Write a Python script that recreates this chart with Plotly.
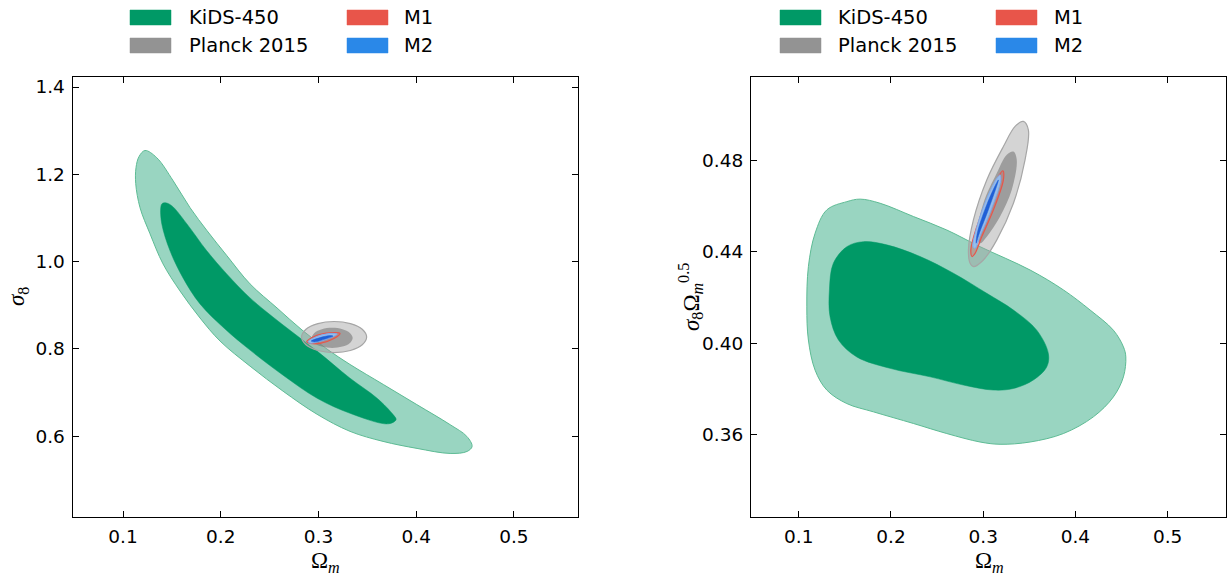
import plotly.graph_objects as go

# ---------------- data ----------------
# Left panel: (Omega_m, sigma_8)
kids_outer_om = [0.1225, 0.1345, 0.1512, 0.1686, 0.186, 0.2064, 0.23, 0.2576, 0.2832, 0.3088, 0.3323, 0.3664, 0.4006, 0.4347, 0.4518, 0.4572, 0.4521, 0.4347, 0.4009, 0.3661, 0.3323, 0.2986, 0.2638, 0.23, 0.1993, 0.1788, 0.1583, 0.1409, 0.1276, 0.1174, 0.113, 0.1133, 0.1164, 0.1225]
kids_outer_s8 = [1.2545, 1.238, 1.1855, 1.1234, 1.0706, 1.0131, 0.9487, 0.8936, 0.843, 0.7993, 0.7641, 0.7182, 0.6722, 0.6262, 0.5993, 0.5763, 0.5648, 0.5602, 0.5717, 0.5878, 0.6108, 0.6499, 0.7028, 0.7602, 0.8177, 0.8706, 0.9326, 0.9947, 1.0637, 1.1234, 1.1786, 1.2154, 1.2407, 1.2545]
kids_inner_om = [0.143, 0.1498, 0.1652, 0.1857, 0.2061, 0.23, 0.2638, 0.2986, 0.3323, 0.36, 0.3764, 0.3794, 0.3712, 0.3323, 0.2986, 0.2638, 0.23, 0.2044, 0.1788, 0.1614, 0.1481, 0.1396, 0.1386, 0.1399, 0.143]
kids_inner_s8 = [1.1349, 1.128, 1.0867, 1.0246, 0.9717, 0.9166, 0.8545, 0.7947, 0.7326, 0.6867, 0.6492, 0.6377, 0.628, 0.6522, 0.6867, 0.7395, 0.797, 0.8453, 0.9028, 0.9625, 1.0246, 1.0867, 1.1234, 1.1326, 1.1349]
planck_outer_om = [0.3493, 0.3448, 0.3327, 0.316, 0.2994, 0.2872, 0.2827, 0.2872, 0.2994, 0.316, 0.3327, 0.3448, 0.3493]
planck_outer_s8 = [0.827, 0.8448, 0.8578, 0.8626, 0.8578, 0.8448, 0.827, 0.8092, 0.7962, 0.7914, 0.7962, 0.8092, 0.827]
planck_inner_om = [0.335, 0.3322, 0.3245, 0.314, 0.3035, 0.2958, 0.293, 0.2958, 0.3035, 0.314, 0.3245, 0.3322, 0.335]
planck_inner_s8 = [0.825, 0.8365, 0.8449, 0.848, 0.8449, 0.8365, 0.825, 0.8135, 0.8051, 0.802, 0.8051, 0.8135, 0.825]
m1_outer_om = [0.288, 0.2983, 0.3119, 0.3221, 0.3153, 0.3016, 0.2922, 0.288]
m1_outer_s8 = [0.8161, 0.8308, 0.8368, 0.8354, 0.823, 0.8124, 0.8124, 0.8161]
m1_inner_om = [0.2905, 0.2996, 0.3119, 0.3195, 0.3129, 0.3006, 0.2914, 0.2905]
m1_inner_s8 = [0.8166, 0.8292, 0.8350, 0.8338, 0.8258, 0.8166, 0.8135, 0.8166]
m2_outer_om = [0.2894, 0.2996, 0.3119, 0.319, 0.3129, 0.3006, 0.2914, 0.2894]
m2_outer_s8 = [0.8166, 0.8292, 0.835, 0.8338, 0.8258, 0.8166, 0.813, 0.8166]
m2_inner_om = [0.2925, 0.3016, 0.3119, 0.3149, 0.3067, 0.2965, 0.2925]
m2_inner_s8 = [0.8177, 0.8258, 0.8304, 0.8292, 0.8223, 0.8159, 0.8177]

# Right panel: (Omega_m, sigma_8 * Omega_m^0.5)
r_kids_outer_om = [0.1521, 0.1665, 0.1882, 0.2243, 0.2605, 0.2966, 0.3509, 0.387, 0.416, 0.4412, 0.4521, 0.4547, 0.4521, 0.4412, 0.4195, 0.387, 0.3509, 0.3183, 0.2966, 0.2605, 0.2243, 0.1809, 0.1521, 0.1304, 0.1177, 0.1104, 0.1087, 0.1104, 0.1177, 0.1304, 0.1521]
r_kids_outer_s = [0.462, 0.4631, 0.4613, 0.4555, 0.4496, 0.4423, 0.4321, 0.4234, 0.4146, 0.4058, 0.3985, 0.3941, 0.3854, 0.3766, 0.3679, 0.3606, 0.3569, 0.3559, 0.3569, 0.3606, 0.365, 0.3701, 0.3737, 0.3796, 0.3883, 0.4015, 0.416, 0.4336, 0.4482, 0.4584, 0.462]
r_kids_inner_om = [0.1701, 0.1954, 0.2316, 0.2677, 0.3039, 0.3328, 0.3581, 0.3707, 0.369, 0.3544, 0.3328, 0.3111, 0.2785, 0.2424, 0.199, 0.1629, 0.143, 0.1339, 0.1332, 0.1375, 0.1521, 0.1701]
r_kids_inner_s = [0.4445, 0.4431, 0.438, 0.4307, 0.4219, 0.4146, 0.4058, 0.3956, 0.3898, 0.384, 0.3803, 0.3796, 0.3818, 0.3854, 0.3891, 0.3941, 0.4015, 0.4117, 0.4234, 0.4351, 0.4423, 0.4445]
r_planck_outer_om = [0.3436, 0.349, 0.3454, 0.3328, 0.3148, 0.3002, 0.2894, 0.2858, 0.284, 0.2894, 0.3039, 0.3219, 0.3346, 0.3436]
r_planck_outer_s = [0.4971, 0.4934, 0.4803, 0.4613, 0.4453, 0.4365, 0.4336, 0.4351, 0.4409, 0.454, 0.4715, 0.4861, 0.4949, 0.4971]
r_planck_inner_om = [0.3328, 0.3364, 0.331, 0.3183, 0.3039, 0.2966, 0.2931, 0.3002, 0.3148, 0.3256, 0.3328]
r_planck_inner_s = [0.4839, 0.4803, 0.4672, 0.4555, 0.4467, 0.4438, 0.4467, 0.4613, 0.4745, 0.4825, 0.4839]
r_m1_outer_om = [0.3213, 0.3219, 0.3111, 0.2985, 0.2912, 0.288, 0.2866, 0.2931, 0.3056, 0.3165, 0.3213]
r_m1_outer_s = [0.4755, 0.4715, 0.4584, 0.4467, 0.4394, 0.438, 0.4409, 0.4511, 0.4642, 0.473, 0.4755]
r_m1_inner_om = [0.3183, 0.3189, 0.3086, 0.2966, 0.2912, 0.289, 0.2934, 0.3042, 0.3151, 0.3183]
r_m1_inner_s = [0.4737, 0.4711, 0.4584, 0.447, 0.4416, 0.4422, 0.4514, 0.4637, 0.4724, 0.4737]
r_m2_outer_om = [0.3183, 0.3189, 0.3086, 0.2966, 0.2912, 0.289, 0.2934, 0.3042, 0.3151, 0.3183]
r_m2_outer_s = [0.4737, 0.4711, 0.4584, 0.447, 0.4416, 0.4422, 0.4514, 0.4637, 0.4724, 0.4737]
r_m2_inner_om = [0.3165, 0.3064, 0.2956, 0.2923, 0.2939, 0.3042, 0.314, 0.3165]
r_m2_inner_s = [0.4715, 0.4593, 0.4479, 0.4438, 0.4488, 0.461, 0.4698, 0.4715]

legend_names = ["KiDS-450", "Planck 2015", "M1", "M2"]
x_ticks = [0.1, 0.2, 0.3, 0.4, 0.5]
y_ticks_left = [0.6, 0.8, 1.0, 1.2, 1.4]
y_ticks_right = [0.36, 0.40, 0.44, 0.48]

# ---------------- styles ----------------
W, H = 1228, 576
GREEN = "#009966"
GREEN_L = "#99d5c1"
GREEN_EDGE = "#5dbb94"
GRAY = "#939393"
GRAY_EDGE = "#a6a6a6"
RED = "#e8554a"
BLUE = "#2a88e8"
legend_colors = [GREEN, GRAY, RED, BLUE]

fig = go.Figure()


def poly(x, y, fill, line_color, line_w, xa, ya):
    fig.add_trace(go.Scatter(
        x=x, y=y, mode="lines", fill="toself", fillcolor=fill,
        line=dict(color=line_color, width=line_w, shape="spline", smoothing=1.0),
        xaxis=xa, yaxis=ya, showlegend=False, hoverinfo="skip"))


panels = [
    ("x", "y",
     (kids_outer_om, kids_outer_s8), (kids_inner_om, kids_inner_s8),
     (planck_outer_om, planck_outer_s8), (planck_inner_om, planck_inner_s8),
     (m1_outer_om, m1_outer_s8), (m1_inner_om, m1_inner_s8),
     (m2_outer_om, m2_outer_s8), (m2_inner_om, m2_inner_s8)),
    ("x2", "y2",
     (r_kids_outer_om, r_kids_outer_s), (r_kids_inner_om, r_kids_inner_s),
     (r_planck_outer_om, r_planck_outer_s), (r_planck_inner_om, r_planck_inner_s),
     (r_m1_outer_om, r_m1_outer_s), (r_m1_inner_om, r_m1_inner_s),
     (r_m2_outer_om, r_m2_outer_s), (r_m2_inner_om, r_m2_inner_s)),
]

for xa, ya, ko, ki, po, pi, m1o, m1i, m2o, m2i in panels:
    poly(*ko, GREEN_L, GREEN_EDGE, 1, xa, ya)
    poly(*ki, GREEN, GREEN, 0.5, xa, ya)
    poly(*po, "rgba(160,160,160,0.45)", GRAY_EDGE, 1.2, xa, ya)
    poly(*pi, "rgba(120,120,120,0.6)", "rgba(120,120,120,0.0)", 0.5, xa, ya)
    poly(*m1o, "rgba(232,85,74,0.25)", RED, 1.2, xa, ya)
    poly(*m1i, "rgba(200,200,220,0.6)", "rgba(0,0,0,0)", 0.5, xa, ya)
    poly(*m2o, "rgba(143,191,242,0.85)", "rgba(120,170,240,0.9)", 1, xa, ya)
    poly(*m2i, "#1f5fd6", "#1f5fd6", 0.5, xa, ya)

TICKFONT = dict(family="DejaVu Sans", size=18.5, color="black")
axis_common = dict(
    showgrid=False, zeroline=False, showline=True, linecolor="black", linewidth=1.3,
    mirror="ticks", ticks="inside", ticklen=6, tickwidth=1, tickcolor="black",
    tickfont=TICKFONT, ticklabelstandoff=3, automargin=False)

fig.update_layout(
    width=W, height=H, margin=dict(l=0, r=0, t=0, b=0, autoexpand=False),
    paper_bgcolor="white", plot_bgcolor="white", showlegend=False,
    xaxis=dict(domain=[0.0592, 0.4707], range=[0.0485, 0.5656], tickvals=x_ticks,
               ticktext=[f"{v:.1f}" for v in x_ticks], anchor="y", **axis_common),
    yaxis=dict(domain=[0.1024, 0.8663], range=[0.4145, 1.4229], tickvals=y_ticks_left,
               ticktext=[f"{v:.1f}" for v in y_ticks_left], anchor="x", **axis_common),
    xaxis2=dict(domain=[0.6116, 0.9984], range=[0.0482, 0.5634], tickvals=x_ticks,
                ticktext=[f"{v:.1f}" for v in x_ticks], anchor="y2", **axis_common),
    yaxis2=dict(domain=[0.1024, 0.8663], range=[0.3241, 0.5165], tickvals=y_ticks_right,
                ticktext=[f"{v:.2f}" for v in y_ticks_right], anchor="x2", **axis_common),
)

# ---------------- axis titles ----------------
TITLEFONT = dict(family="Liberation Serif", size=23, color="black")
titles = [
    ("Ω<sub><i>m</i></sub>", 325, 562, 0),
    ("Ω<sub><i>m</i></sub>", 989, 562, 0),
    ("<i>σ</i><sub>8</sub>", 18, 297, -90),
    ("<i>σ</i><sub>8</sub>Ω<sub><i>m</i></sub><sup>0.5</sup>", 690, 297, -90),
]
for text, px, py, ang in titles:
    fig.add_annotation(text=text, x=px / W, y=1 - py / H, xref="paper", yref="paper",
                       showarrow=False, xanchor="center", yanchor="middle",
                       textangle=ang, font=TITLEFONT)

# ---------------- legends (two columns above each panel) ----------------
LEGFONT = dict(family="DejaVu Sans", size=19.5, color="black")
legend_cols = [(130, 187), (347, 402), (780, 836), (996, 1052)]  # patch left, text left (px)
row_centers = [17.5, 45.5]
patch_w, patch_h = 41, 15
entries = [(0, 0, 0), (0, 1, 1), (1, 0, 2), (1, 1, 3)]  # (col in panel, row, name idx)
for panel in range(2):
    for col, row, idx in entries:
        pl, tl = legend_cols[panel * 2 + col]
        cy = row_centers[row]
        fig.add_shape(type="rect", xref="paper", yref="paper",
                      x0=pl / W, x1=(pl + patch_w) / W,
                      y0=1 - (cy + patch_h / 2) / H, y1=1 - (cy - patch_h / 2) / H,
                      fillcolor=legend_colors[idx], line=dict(width=0.5, color=legend_colors[idx]))
        fig.add_annotation(text=legend_names[idx], x=tl / W, y=1 - cy / H,
                           xref="paper", yref="paper", showarrow=False,
                           xanchor="left", yanchor="middle", font=LEGFONT)

fig.write_html("out.html", config={"displayModeBar": False},
               post_script="document.body.style.margin='0';document.body.style.overflow='hidden';")
